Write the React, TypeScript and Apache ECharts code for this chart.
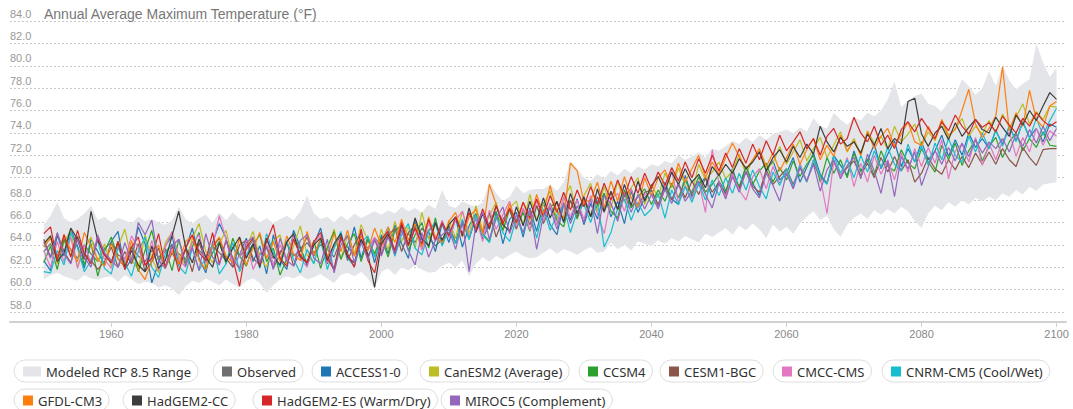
import React, { useEffect, useRef } from "react";
import * as echarts from "echarts";

const START_YEAR = 1950;
const X_TICKS = [1960, 1980, 2000, 2020, 2040, 2060, 2080, 2100];
const TITLE = "Annual Average Maximum Temperature (°F)";

const RANGE_LOW = [
  60.9, 61.3, 61.5, 61.2, 61.0, 60.8, 61.3, 61.0, 60.9, 61.1,
  61.2, 60.7, 61.3, 60.9, 60.5, 60.7, 60.6, 60.2, 60.4, 60.1,
  59.5, 60.3, 60.8, 60.6, 61.0, 60.7, 60.4, 60.9, 60.5, 60.2,
  60.8, 61.0, 60.6, 59.7, 60.4, 60.9, 61.2, 61.0, 61.3, 60.9,
  61.1, 61.4, 61.0, 60.6, 61.3, 61.5, 61.2, 61.6, 61.0, 60.1,
  61.6, 61.9, 61.3, 62.0, 61.7, 62.2, 61.8, 61.5, 61.6, 62.1,
  62.4, 62.0, 62.6, 61.2, 62.3, 62.9, 62.5, 63.0, 62.7, 63.1,
  63.4, 63.0, 62.8, 62.9, 63.3, 63.7, 63.2, 63.6, 63.4, 63.1,
  63.5, 63.8, 63.3, 63.4, 64.2, 63.6, 64.0, 63.5, 64.3, 64.1,
  63.9, 64.4, 64.1, 64.6, 64.3, 64.8, 64.5, 64.2, 65.0, 64.7,
  65.1, 65.5, 64.9, 65.7, 65.3, 65.9, 65.4, 64.6, 65.8, 65.2,
  65.6, 65.0, 65.9, 66.5, 67.0, 66.2, 66.6, 65.4, 64.7, 65.8,
  66.4, 66.8, 66.3, 67.1, 66.7, 67.2, 66.8, 67.4, 67.0, 66.1,
  65.5, 66.8, 67.5, 67.1, 67.8, 67.4, 68.0, 67.6, 68.2, 67.9,
  68.3, 68.0, 68.6, 68.3, 68.9, 68.5, 69.2, 68.8, 69.4, 69.5,
  69.6,
];

const RANGE_HIGH = [
  65.8, 66.6, 67.8, 66.4, 66.0, 66.3, 66.8, 67.5, 66.2, 66.5,
  66.0, 66.4, 66.2, 65.9, 66.5, 66.1, 66.3, 66.0, 65.8, 66.2,
  67.4, 66.3, 65.9, 66.4, 66.7, 66.0, 66.9, 66.2, 66.9, 66.3,
  66.1, 66.5, 66.0, 66.4, 65.9, 66.3, 66.6, 66.2, 67.0, 68.4,
  66.8, 66.3, 66.5, 66.0, 66.6, 66.2, 66.8, 66.4, 66.7, 67.0,
  66.7, 67.1, 66.8, 67.4, 67.0, 67.3, 66.9, 67.6, 67.2, 68.9,
  67.5, 67.3, 67.9, 67.6, 67.4, 67.8, 69.6, 68.6, 67.9, 68.3,
  69.3, 68.6, 68.9, 69.0, 69.0, 69.4, 68.8, 69.6, 71.5, 70.8,
  70.0, 69.7, 70.3, 69.9, 70.6, 70.2, 70.8, 70.4, 71.0, 70.7,
  71.2, 71.0, 71.5, 71.3, 72.0, 71.6, 71.9, 72.3, 71.8, 72.6,
  72.4, 72.8, 73.3, 73.0, 73.6, 73.2, 73.8, 73.4, 73.9, 74.1,
  74.3, 74.0, 74.5, 74.1, 75.3, 74.6, 74.4, 75.8, 75.2, 74.7,
  75.4, 75.1, 75.8, 75.5, 76.0, 77.0, 78.6, 76.3, 76.9, 77.3,
  77.5, 76.6, 76.4, 75.9, 76.8, 77.3, 78.8, 78.2, 77.4, 78.0,
  79.5, 78.2, 80.0, 78.7, 77.9, 78.4, 78.8, 82.0, 80.3, 79.0,
  79.8,
];

const OBSERVED = [
  63.4, 64.1, 63.0, 64.5, 63.6, 62.8, 64.0, 63.2, 62.5, 63.7,
  64.2, 63.1, 62.8, 63.8, 63.0, 62.5, 63.5, 62.9, 63.4, 64.0,
  63.2, 62.7, 64.3, 63.5, 62.9, 63.9, 63.3, 62.6, 63.8, 63.0,
  63.6, 64.4, 63.1, 63.7, 62.8, 63.4, 64.1, 63.0, 63.5, 64.2,
  63.3, 64.0, 63.6, 62.9, 64.5, 63.8, 63.1, 64.3, 63.7, 64.6,
  64.0, 64.8, 63.5, 64.4, 65.0, 64.2, 65.5, 64.7, 63.9, 64.5,
  65.1, 64.6, 65.8,
];

const ACCESS1_0 = [
  62.6, 61.7, 64.9, 63.0, 65.4, 63.9, 61.9, 64.5, 63.4, 62.2,
  64.3, 65.2, 61.8, 62.7, 65.6, 64.1, 60.6, 62.4, 63.9, 64.8,
  62.3, 63.6, 65.5, 62.8, 61.5, 64.2, 65.9, 64.6, 62.0, 63.1,
  64.6, 62.5, 63.9, 61.4, 64.9, 62.7, 61.8, 65.3, 63.8, 62.1,
  64.0, 65.5, 62.9, 61.9, 64.6, 63.3, 65.6, 62.8, 64.7, 62.4,
  64.9, 63.2, 65.8, 64.1, 62.8, 66.1, 64.4, 65.2, 63.4, 65.9,
  64.2, 66.4, 63.8, 65.7, 66.8, 64.5, 65.9, 67.0, 64.1, 66.3,
  66.9, 64.7, 67.3, 65.2, 67.8, 65.8, 64.9, 67.6, 66.2, 68.1,
  65.8, 67.7, 66.3, 68.6, 66.5, 67.9, 65.9, 68.8, 66.9, 68.2,
  68.9, 67.4, 69.6, 68.1, 67.6, 70.2, 68.3, 69.4, 70.0, 68.2,
  69.7, 68.6, 70.8, 69.0, 71.0, 69.5, 68.4, 70.6, 71.5, 69.8,
  70.4, 71.8, 69.6, 70.9, 72.2, 70.3, 69.5, 72.0, 71.1, 70.2,
  72.4, 70.6, 71.5, 73.0, 70.8, 72.1, 73.3, 71.0, 72.6, 71.4,
  73.2, 71.6, 72.4, 73.8, 71.9, 73.4, 72.0, 74.0, 72.7, 73.5,
  72.6, 74.2, 73.0, 74.6, 73.3, 75.0, 73.6, 74.4, 73.2, 74.8,
  74.5,
];

const CANESM2 = [
  63.9, 64.8, 62.3, 64.2, 65.3, 62.0, 63.6, 64.7, 62.5, 64.1,
  62.1, 63.8, 65.4, 62.7, 61.8, 64.9, 62.8, 61.5, 64.2, 65.1,
  63.0, 62.2, 64.6, 65.9, 63.4, 62.4, 64.1, 65.3, 62.6, 61.9,
  63.8, 65.2, 62.8, 62.0, 64.3, 64.9, 62.3, 63.9, 65.7, 63.1,
  62.4, 64.5, 63.5, 65.4, 62.7, 64.9, 63.2, 65.8, 64.4, 63.0,
  65.4, 63.5, 66.1, 64.3, 65.6, 63.7, 66.9, 64.5, 65.9, 64.0,
  66.2, 64.6, 67.0, 65.0, 67.5, 65.3, 66.6, 67.8, 65.2, 67.3,
  67.9, 65.8, 68.5, 66.2, 67.6, 68.8, 66.3, 68.1, 69.3, 66.6,
  68.4, 69.5, 67.0, 69.2, 67.3, 69.7, 67.8, 69.1, 70.0, 67.6,
  69.4, 68.2, 70.4, 69.1, 70.9, 69.3, 68.6, 71.2, 69.8, 70.5,
  71.4, 69.9, 70.6, 72.1, 70.3, 71.6, 72.4, 70.8, 71.3, 72.8,
  71.2, 72.3, 73.4, 71.5, 72.6, 73.6, 71.8, 72.9, 74.1, 72.3,
  73.5, 72.0, 74.2, 73.1, 73.7, 72.5, 74.6, 73.2, 73.9, 74.8,
  72.8, 74.1, 73.3, 75.0, 73.6, 74.4, 75.3, 73.7, 74.6, 73.9,
  75.1, 74.0, 75.7, 74.5, 75.4, 76.6, 74.8, 75.9, 75.2, 76.4,
  76.3,
];

const CCSM4 = [
  62.4, 63.9, 61.8, 64.5, 63.0, 64.8, 62.2, 64.1, 61.2, 63.4,
  64.7, 62.8, 62.0, 63.9, 61.6, 63.5, 65.3, 62.6, 63.7, 61.7,
  64.5, 62.4, 63.8, 65.1, 61.9, 63.3, 64.3, 62.3, 64.6, 63.0,
  62.1, 64.0, 64.9, 62.5, 63.7, 61.3, 62.8, 64.8, 63.6, 62.4,
  64.4, 61.9, 63.8, 65.2, 62.7, 64.1, 65.0, 62.5, 64.5, 63.2,
  64.7, 62.9, 65.3, 65.7, 63.5, 64.9, 66.0, 63.7, 66.4, 64.0,
  65.5, 64.1, 66.1, 64.5, 66.6, 65.0, 64.3, 66.9, 65.3, 67.2,
  65.5, 66.9, 65.2, 67.5, 66.0, 67.7, 66.2, 65.6, 68.0, 66.3,
  68.0, 66.5, 67.5, 68.6, 67.0, 66.4, 68.9, 67.3, 68.3, 69.0,
  67.6, 68.9, 67.9, 69.5, 68.2, 69.8, 68.5, 70.1, 68.7, 69.4,
  70.3, 68.8, 70.5, 69.2, 71.0, 69.4, 70.6, 71.3, 69.6, 70.9,
  69.8, 71.5, 70.1, 71.2, 72.0, 69.6, 71.8, 70.4, 71.6, 70.0,
  72.2, 70.5, 71.7, 70.2, 72.4, 71.0, 70.6, 72.5, 71.3, 70.8,
  72.6, 71.4, 70.5, 72.9, 71.6, 73.1, 71.1, 72.4, 73.4, 71.5,
  72.8, 73.6, 71.8, 73.2, 74.0, 72.4, 73.5, 72.7, 74.1, 72.9,
  72.8,
];

const CESM1_BGC = [
  64.5, 62.9, 65.0, 63.4, 62.4, 64.7, 63.2, 62.6, 61.8, 62.5,
  63.8, 62.0, 63.4, 62.3, 64.1, 61.6, 62.5, 63.7, 61.9, 63.3,
  62.2, 63.6, 61.6, 64.2, 62.5, 63.8, 64.6, 62.8, 62.0, 64.0,
  64.4, 62.8, 62.2, 63.9, 61.9, 63.2, 64.3, 62.1, 63.5, 64.7,
  63.0, 64.4, 62.3, 63.9, 64.8, 62.6, 64.0, 65.1, 62.9, 64.4,
  63.2, 64.8, 65.5, 63.4, 65.1, 65.7, 63.8, 65.3, 66.0, 64.1,
  65.7, 64.2, 66.1, 64.6, 66.4, 65.0, 66.9, 64.7, 66.3, 67.1,
  65.4, 67.2, 65.8, 67.5, 65.9, 67.4, 67.8, 66.1, 68.0, 66.5,
  68.1, 66.6, 68.3, 66.9, 68.7, 67.1, 68.4, 69.0, 67.3, 68.7,
  68.9, 67.6, 69.2, 68.0, 69.5, 68.2, 69.7, 68.5, 70.0, 68.7,
  69.6, 68.5, 70.3, 69.0, 70.5, 69.2, 68.7, 70.7, 69.4, 70.1,
  70.8, 69.4, 70.9, 69.7, 71.3, 70.0, 69.5, 71.5, 70.2, 70.9,
  71.5, 70.2, 71.3, 70.0, 71.8, 70.5, 71.9, 70.6, 71.6, 69.6,
  70.4, 71.8, 70.8, 70.3, 71.6, 70.7, 71.9, 70.9, 72.2, 71.2,
  72.3, 71.2, 72.6, 71.6, 71.0, 72.7, 71.8, 71.1, 72.5, 72.6,
  72.6,
];

const CMCC_CMS = [
  63.5, 62.0, 64.3, 62.5, 64.7, 61.9, 64.0, 62.4, 64.9, 62.7,
  61.9, 64.1, 62.6, 64.8, 63.7, 62.1, 64.4, 61.7, 63.8, 65.2,
  62.7, 62.0, 64.2, 64.9, 62.3, 63.8, 66.6, 64.5, 62.2, 63.0,
  64.4, 61.8, 63.1, 64.6, 62.2, 64.0, 62.5, 64.9, 62.8, 62.0,
  64.2, 64.8, 62.4, 63.8, 64.6, 63.0, 62.0, 65.0, 63.5, 64.7,
  63.4, 65.3, 63.0, 65.6, 64.0, 65.4, 63.5, 66.0, 64.3, 66.2,
  64.6, 66.2, 67.0, 64.7, 66.5, 64.3, 67.1, 65.4, 66.7, 67.9,
  65.6, 67.3, 65.3, 68.0, 66.1, 67.6, 65.8, 68.3, 66.5, 68.0,
  66.3, 68.4, 66.8, 65.0, 68.1, 68.6, 67.0, 69.0, 67.3, 68.5,
  68.6, 67.3, 69.0, 70.6, 67.8, 69.3, 68.1, 69.7, 66.9, 72.5,
  69.6, 68.3, 70.4, 68.9, 68.0, 70.1, 70.8, 69.0, 71.0, 69.5,
  70.6, 69.0, 71.3, 69.6, 71.6, 70.0, 66.8, 71.4, 70.1, 71.8,
  69.2, 71.3, 69.6, 72.0, 70.3, 71.6, 69.8, 72.2, 70.5, 72.6,
  71.0, 72.7, 71.3, 73.4, 69.9, 72.4, 73.0, 71.4, 73.6, 71.1,
  73.1, 71.6, 73.3, 74.1, 71.9, 73.6, 72.3, 74.4, 72.9, 74.2,
  73.7,
];

const CNRM_CM5 = [
  61.6, 61.5, 63.5, 62.2, 65.1, 63.7, 61.6, 62.6, 64.4, 61.9,
  61.4, 63.8, 62.4, 61.2, 63.4, 64.7, 62.0, 61.1, 63.2, 64.1,
  62.1, 61.4, 63.7, 61.7, 62.9, 64.0, 61.4, 62.3, 64.2, 61.6,
  63.1, 64.1, 61.9, 65.0, 63.3, 62.0, 64.3, 62.7, 61.5, 63.6,
  62.3, 64.5, 61.8, 63.7, 65.2, 62.8, 62.1, 64.2, 64.8, 62.9,
  64.2, 65.6, 63.0, 64.9, 65.9, 63.7, 63.1, 65.2, 66.0, 63.9,
  65.5, 64.1, 66.3, 64.5, 66.7, 64.9, 64.2, 66.6, 65.1, 64.3,
  66.4, 65.0, 66.9, 64.6, 67.2, 65.3, 66.7, 67.5, 65.1, 67.0,
  67.6, 66.0, 68.0, 63.8, 65.1, 67.3, 68.1, 66.2, 67.8, 66.6,
  67.2, 68.6, 66.4, 68.9, 67.6, 69.2, 67.8, 69.5, 68.0, 69.8,
  68.4, 70.0, 68.6, 70.4, 68.9, 70.7, 69.2, 68.1, 70.5, 69.3,
  70.8, 69.2, 71.1, 69.6, 71.6, 70.1, 69.4, 72.0, 70.4, 71.6,
  70.0, 72.0, 70.5, 72.4, 70.9, 72.7, 71.2, 70.6, 73.0, 71.4,
  72.8, 71.1, 73.1, 71.6, 73.5, 72.0, 71.4, 73.7, 72.3, 74.0,
  72.6, 74.3, 72.8, 74.6, 73.2, 75.0, 73.5, 75.3, 73.8, 75.1,
  76.2,
];

const GFDL_CM3 = [
  63.8, 64.6, 62.8, 64.9, 63.5, 62.5, 65.1, 63.9, 62.7, 62.1,
  64.1, 62.7, 62.1, 64.4, 61.8, 60.9, 62.6, 64.0, 61.9, 63.5,
  62.3, 64.3, 64.8, 62.6, 61.8, 63.9, 64.7, 63.0, 62.4, 64.6,
  62.2, 63.7, 65.1, 62.8, 64.3, 62.5, 64.8, 63.2, 62.6, 65.2,
  63.1, 64.6, 62.8, 65.0, 63.4, 65.3, 63.0, 64.8, 63.5, 65.5,
  63.9, 65.6, 64.2, 66.3, 64.4, 65.9, 63.8, 66.5, 64.7, 64.2,
  66.1, 66.9, 64.7, 66.5, 67.2, 65.0, 69.4, 67.6, 65.8, 67.7,
  65.9, 67.8, 66.2, 68.5, 66.7, 69.3, 67.0, 66.4, 71.3, 70.6,
  67.8, 68.0, 69.6, 67.3, 69.7, 67.9, 70.1, 68.2, 67.4, 70.0,
  68.4, 70.0, 70.7, 69.2, 71.3, 69.6, 70.8, 72.0, 70.0, 71.4,
  70.3, 71.8, 73.1, 71.9, 70.8, 71.6, 72.6, 71.0, 72.2, 70.6,
  71.8, 73.0, 71.2, 72.5, 73.5, 71.6, 72.9, 71.9, 73.8, 72.4,
  73.3, 72.0, 74.1, 72.6, 73.7, 74.4, 72.8, 73.9, 75.0, 73.2,
  72.9, 74.6, 73.4, 75.2, 73.8, 74.3, 76.0, 77.9, 74.8, 73.6,
  74.4, 75.5, 79.9, 74.2, 75.8, 74.6, 77.8, 75.2, 74.5, 76.4,
  76.8,
];

const HADGEM2_CC = [
  64.1, 64.8, 62.5, 63.3, 65.5, 64.5, 62.7, 67.0, 64.4, 63.1,
  62.4, 64.3, 62.0, 63.5, 62.2, 61.6, 63.9, 61.9, 62.6, 64.8,
  67.0, 63.8, 62.4, 64.5, 62.9, 62.0, 64.2, 62.5, 63.7, 64.7,
  62.8, 64.1, 62.0, 64.6, 63.0, 62.2, 64.3, 65.0, 62.9, 62.4,
  64.0, 64.6, 62.6, 64.1, 65.0, 62.9, 62.4, 64.5, 63.2, 60.2,
  64.1, 65.0, 63.2, 65.8, 64.0, 66.4, 64.6, 63.9, 66.0, 64.4,
  65.8, 66.5, 64.8, 67.3, 65.1, 66.8, 65.4, 67.5, 65.8, 65.2,
  67.4, 65.7, 67.9, 66.1, 68.2, 66.4, 67.9, 66.0, 68.6, 66.8,
  68.3, 66.5, 69.0, 67.0, 68.8, 67.2, 69.4, 67.5, 69.7, 67.9,
  69.3, 70.1, 68.8, 70.5, 69.4, 70.8, 69.6, 70.3, 69.1, 71.0,
  70.2, 71.2, 70.4, 71.7, 70.8, 71.4, 72.3, 70.6, 71.8, 72.5,
  71.4, 72.8, 71.8, 73.0, 72.1, 74.6, 73.2, 72.3, 73.6, 72.8,
  73.2, 72.2, 73.9, 72.9, 74.4, 72.6, 73.5, 73.0, 76.8, 77.1,
  73.9, 72.8, 74.0, 74.6, 73.4, 74.9, 73.7, 74.5, 75.2, 74.3,
  74.0, 75.4, 74.5, 73.7, 75.6, 74.7, 76.0, 75.1, 76.4, 77.6,
  77.0,
];

const HADGEM2_ES = [
  65.0, 65.6, 62.6, 64.9, 62.9, 65.3, 63.2, 62.3, 64.6, 63.1,
  62.4, 64.3, 61.8, 63.8, 64.7, 62.2, 62.8, 65.0, 62.0, 64.0,
  61.6, 63.7, 64.9, 63.3, 62.6, 65.1, 62.3, 64.4, 62.8, 60.3,
  63.8, 64.6, 62.2, 64.3, 65.8, 62.8, 62.1, 64.5, 63.1, 62.4,
  64.3, 65.1, 62.9, 61.7, 64.7, 63.2, 62.0, 65.4, 62.6, 61.5,
  64.5, 65.2, 63.5, 66.0, 63.9, 65.5, 64.1, 66.3, 64.4, 66.0,
  64.8, 66.5, 65.0, 66.9, 65.3, 67.2, 65.6, 67.5, 65.9, 67.3,
  66.0, 67.8, 66.4, 68.1, 66.5, 68.4, 66.9, 68.7, 67.1, 68.9,
  67.4, 69.2, 67.6, 69.5, 68.0, 69.8, 68.3, 70.1, 68.6, 70.4,
  69.0, 70.5, 69.3, 70.9, 69.7, 71.4, 70.0, 71.7, 70.4, 72.0,
  70.6, 72.2, 70.9, 72.6, 71.3, 73.0, 71.6, 73.3, 72.0, 73.8,
  72.4, 73.2, 74.1, 72.6, 73.5, 72.0, 73.7, 74.4, 73.0, 73.5,
  75.4, 74.0, 73.2, 74.6, 72.9, 73.8, 72.6, 74.3, 75.0, 74.1,
  75.3, 74.4, 73.5, 75.0, 74.2, 75.6, 74.6, 73.9, 75.2, 74.5,
  74.9, 74.1, 75.5, 74.7, 74.0, 75.3, 74.6, 75.8, 75.1, 74.6,
  75.0,
];

const MIROC5 = [
  64.3, 62.8, 65.1, 63.2, 62.3, 64.5, 62.9, 62.0, 64.8, 63.3,
  62.6, 62.0, 64.2, 62.5, 66.0, 64.9, 66.2, 62.6, 61.9, 63.9,
  64.5, 62.1, 63.8, 61.7, 65.0, 62.9, 62.2, 64.4, 62.7, 61.9,
  64.2, 64.7, 62.4, 63.9, 61.8, 64.6, 62.6, 62.1, 64.4, 64.9,
  62.8, 62.3, 64.5, 61.5, 64.0, 64.8, 62.4, 64.2, 62.7, 64.5,
  63.0, 64.7, 63.2, 65.3, 63.5, 62.2, 65.1, 62.9, 64.4, 64.9,
  65.4, 63.6, 66.1, 61.6, 65.8, 66.9, 64.5, 66.3, 67.4, 65.0,
  66.7, 65.1, 67.2, 63.6, 66.6, 67.3, 65.4, 67.8, 65.9, 67.5,
  66.0, 68.1, 65.0, 68.4, 67.7, 66.1, 68.6, 66.9, 68.5, 67.2,
  68.5, 67.2, 69.0, 67.7, 69.4, 67.9, 68.8, 69.7, 68.5, 67.3,
  69.5, 68.1, 70.1, 68.7, 70.6, 69.0, 68.2, 70.4, 69.3, 67.9,
  70.4, 69.0, 70.9, 69.7, 71.2, 68.8, 70.7, 71.6, 69.9, 71.1,
  71.8, 69.9, 72.1, 70.6, 68.6, 71.5, 68.3, 71.9, 70.8, 72.3,
  69.3, 71.0, 72.4, 71.2, 72.7, 71.5, 73.1, 71.9, 73.4, 72.2,
  73.2, 72.6, 73.5, 72.3, 73.9, 72.8, 74.3, 73.1, 74.6, 73.3,
  74.4,
];

const RANGE_NAME = "Modeled RCP 8.5 Range";
const RANGE_COLOR = "#e3e5e8";

const LINES: { name: string; data: number[]; color: string }[] = [
  { name: "Observed", data: OBSERVED, color: "#6f6f6f" },
  { name: "ACCESS1-0", data: ACCESS1_0, color: "#1f77b4" },
  { name: "CanESM2 (Average)", data: CANESM2, color: "#bcbd22" },
  { name: "CCSM4", data: CCSM4, color: "#2ca02c" },
  { name: "CESM1-BGC", data: CESM1_BGC, color: "#8c564b" },
  { name: "CMCC-CMS", data: CMCC_CMS, color: "#e377c2" },
  { name: "CNRM-CM5 (Cool/Wet)", data: CNRM_CM5, color: "#17becf" },
  { name: "GFDL-CM3", data: GFDL_CM3, color: "#ff7f0e" },
  { name: "HadGEM2-CC", data: HADGEM2_CC, color: "#3d3d3d" },
  { name: "HadGEM2-ES (Warm/Dry)", data: HADGEM2_ES, color: "#d62728" },
  { name: "MIROC5 (Complement)", data: MIROC5, color: "#9467bd" },
];

// legend pill layout: [name, left, top]
const LEGEND_LAYOUT: [string, number, number][] = [
  [RANGE_NAME, 14, 360],
  ["Observed", 213, 360],
  ["ACCESS1-0", 312, 360],
  ["CanESM2 (Average)", 420, 360],
  ["CCSM4", 579, 360],
  ["CESM1-BGC", 660, 360],
  ["CMCC-CMS", 773, 360],
  ["CNRM-CM5 (Cool/Wet)", 882, 360],
  ["GFDL-CM3", 14, 389],
  ["HadGEM2-CC", 123, 389],
  ["HadGEM2-ES (Warm/Dry)", 253, 389],
  ["MIROC5 (Complement)", 441, 389],
];

const toPairs = (arr: number[]) => arr.map((v, i) => [START_YEAR + i, v]);

export default function App() {
  const ref = useRef<HTMLDivElement>(null);

  useEffect(() => {
    if (!ref.current) return;
    const chart = echarts.init(ref.current, null, { renderer: "svg" });

    const legends = LEGEND_LAYOUT.map(([name, left, top]) => ({
      data: [name],
      left,
      top,
      orient: "horizontal",
      padding: [5, 7, 4, 9],
      borderColor: "#dedede",
      borderWidth: 1,
      borderRadius: 12,
      backgroundColor: "#fff",
      itemWidth: name === RANGE_NAME ? 18 : 10,
      itemHeight: 10,
      icon: "rect",
      itemStyle: { borderWidth: 0 },
      textStyle: { fontFamily: "Noto Sans", fontSize: 13, color: "#333" },
      selectedMode: false,
    }));

    const N = RANGE_LOW.length;
    const series: any[] = [
      {
        name: RANGE_NAME,
        type: "custom",
        data: RANGE_LOW.map((lo, i) => [START_YEAR + i, lo, RANGE_HIGH[i]]),
        encode: { x: 0, y: [1, 2] },
        itemStyle: { color: RANGE_COLOR },
        silent: true,
        z: 1,
        renderItem: (params: any, api: any) => {
          if (params.dataIndex !== 0) return null;
          const pts: number[][] = [];
          for (let i = 0; i < N; i++) pts.push(api.coord([START_YEAR + i, RANGE_HIGH[i]]));
          for (let i = N - 1; i >= 0; i--) pts.push(api.coord([START_YEAR + i, RANGE_LOW[i]]));
          return {
            type: "polygon",
            shape: { points: pts },
            style: { fill: RANGE_COLOR, stroke: null },
          };
        },
      },
      ...LINES.map((s) => ({
        name: s.name,
        type: "line",
        data: toPairs(s.data),
        symbol: "none",
        lineStyle: { width: 1.2, color: s.color },
        itemStyle: { color: s.color },
        z: 2,
        emphasis: { disabled: true },
      })),
    ];

    chart.setOption({
      animation: false,
      backgroundColor: "#fff",
      title: {
        text: TITLE,
        left: 44,
        top: 7,
        padding: 0,
        textStyle: {
          fontFamily: "Liberation Sans",
          fontSize: 14,
          fontWeight: "normal",
          color: "#777",
        },
      },
      legend: legends,
      grid: { left: 10, right: 7, top: 21, bottom: 97, containLabel: false },
      xAxis: {
        type: "value",
        min: 1945,
        max: 2101.4,
        offset: 10,
        axisLine: { show: true, lineStyle: { color: "#d0d0d0", width: 2 } },
        axisTick: {
          show: true,
          length: 5,
          customValues: X_TICKS,
          lineStyle: { color: "#d0d0d0", width: 1 },
        },
        axisLabel: {
          customValues: X_TICKS,
          fontFamily: "Liberation Sans",
          fontSize: 11,
          color: "#888",
          margin: 6,
          formatter: (v: number) => String(v),
        },
        splitLine: { show: false },
      },
      yAxis: {
        type: "value",
        min: 58,
        max: 84,
        interval: 2,
        axisLine: { show: false },
        axisTick: { show: false },
        axisLabel: {
          inside: true,
          margin: 0,
          verticalAlign: "bottom",
          padding: [0, 0, 2, 0],
          fontFamily: "Liberation Sans",
          fontSize: 11,
          color: "#999",
          formatter: (v: number) => v.toFixed(1),
        },
        splitLine: { show: true, lineStyle: { color: "#c8c8c8", type: [2, 2], width: 1 } },
      },
      series,
    });

    return () => chart.dispose();
  }, []);

  return (
    <div
      ref={ref}
      style={{ position: "fixed", left: 0, top: 0, width: 1073, height: 409, background: "#fff" }}
    />
  );
}
